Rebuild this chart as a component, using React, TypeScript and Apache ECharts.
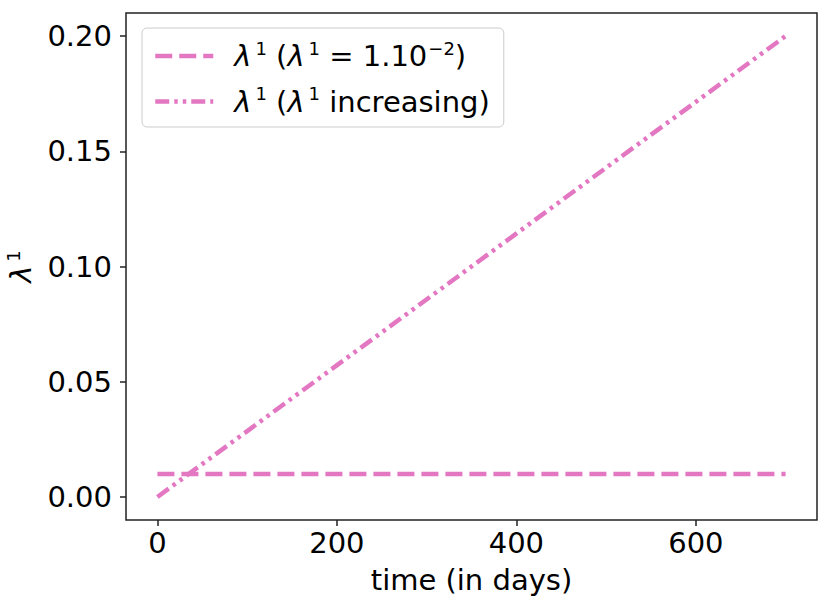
import React, { useEffect, useRef } from 'react';
import * as echarts from 'echarts';

// ---- data ----
const days = [0, 700];
const lambdaConstant = [0.01, 0.01];
const lambdaIncreasing = [0, 0.2];
const xTicks = [0, 200, 400, 600];
const yTicks = [0, 0.05, 0.1, 0.15, 0.2];
const seriesNames = ['constant', 'increasing'];
const legendLabels: Record<string, string> = {
  constant: '{l|λ}{s|1}{t| (}{l|λ}{s|1}{t| = 1.10}{e|−2}{t|)}',
  increasing: '{l|λ}{s|1}{t| (}{l|λ}{s|1}{t| increasing)}',
};
const yName = '{l|λ}{s|1}';
const xName = 'time (in days)';

const PINK = '#e377c2';
const FONT = 'DejaVu Sans';
const FS = 29;

const rich = {
  l: { fontFamily: FONT, fontSize: FS, fontStyle: 'italic', lineHeight: 34, color: '#000' },
  t: { fontFamily: FONT, fontSize: FS, lineHeight: 34, color: '#000' },
  s: { fontFamily: FONT, fontSize: 18, lineHeight: 17, verticalAlign: 'top', padding: [0, 0, 0, 4], color: '#000' },
  e: { fontFamily: FONT, fontSize: 18, lineHeight: 17, verticalAlign: 'top', padding: [0, 0, 0, 1], color: '#000' },
};

export default function App() {
  const ref = useRef<HTMLDivElement>(null);
  useEffect(() => {
    if (!ref.current) return;
    const chart = echarts.init(ref.current, undefined, { renderer: 'svg' });
    chart.setOption({
      animation: false,
      backgroundColor: '#fff',
      grid: {
        left: 126, right: 13, top: 13, bottom: 90,
        outerBoundsMode: 'none',
        containLabel: false,
        show: true, borderColor: '#222', borderWidth: 1.5,
      },
      xAxis: {
        type: 'value', min: -35, max: 735,
        axisLine: { show: false, onZero: false },
        splitLine: { show: false },
        axisTick: { show: true, length: 6, lineStyle: { color: '#222', width: 1.5 }, customValues: xTicks },
        axisLabel: { customValues: xTicks, fontFamily: FONT, fontSize: FS, color: '#000', margin: 8 },
        name: xName, nameLocation: 'middle', nameGap: 45,
        nameTextStyle: { fontFamily: FONT, fontSize: FS, color: '#000' },
      },
      yAxis: {
        type: 'value', min: -0.01, max: 0.21,
        axisLine: { show: false, onZero: false },
        splitLine: { show: false },
        axisTick: { show: true, length: 6, lineStyle: { color: '#222', width: 1.5 }, customValues: yTicks },
        axisLabel: {
          customValues: yTicks, fontFamily: FONT, fontSize: FS, color: '#000', margin: 14,
          formatter: (v: number) => v.toFixed(2),
        },
        name: yName, nameLocation: 'middle', nameGap: 88, nameRotate: 90,
        nameTextStyle: { fontFamily: FONT, fontSize: FS, color: '#000', rich },
      },
      legend: {
        orient: 'vertical', left: 142, top: 28,
        padding: [11, 14, 11, 11],
        itemWidth: 58, itemHeight: 14, itemGap: 14,
        borderColor: '#cccccc', borderWidth: 1, borderRadius: 5,
        backgroundColor: 'rgba(255,255,255,0.8)',
        lineStyle: { width: 4.5 },
        itemStyle: { opacity: 0 },
        textStyle: { fontFamily: FONT, fontSize: FS, color: '#000', padding: [0, 0, 0, 16], rich },
        formatter: (name: string) => legendLabels[name],
        data: seriesNames,
      },
      series: [
        {
          name: seriesNames[0], type: 'line', symbol: 'none',
          data: days.map((d, i) => [d, lambdaConstant[i]]),
          itemStyle: { color: PINK },
          lineStyle: { color: PINK, width: 4.5, type: [17, 7] },
        },
        {
          name: seriesNames[1], type: 'line', symbol: 'none',
          data: days.map((d, i) => [d, lambdaIncreasing[i]]),
          itemStyle: { color: PINK },
          lineStyle: { color: PINK, width: 4.5, type: [14, 5, 3.5, 5, 3.5, 5] },
        },
      ],
    });
    return () => chart.dispose();
  }, []);
  return (
    <div
      ref={ref}
      style={{ position: 'fixed', left: 0, top: 0, width: 830, height: 610, background: '#fff' }}
    />
  );
}
